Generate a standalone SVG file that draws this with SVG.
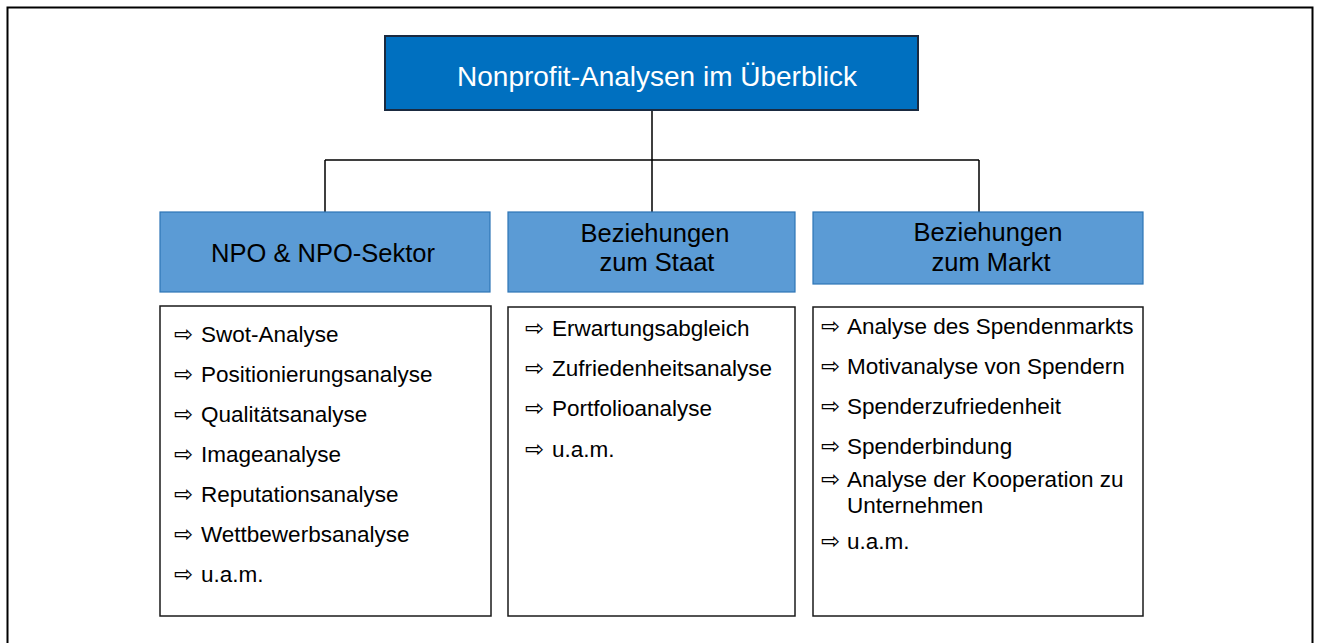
<svg xmlns="http://www.w3.org/2000/svg" width="1317" height="643" viewBox="0 0 1317 643">
<style>
text{font-family:"Liberation Sans",Arial,sans-serif;fill:#000}
.title{font-size:28px;fill:#fff}
.head{font-size:25.5px}
.item{font-size:22.5px}
.arr{font-family:"DejaVu Sans",sans-serif;font-size:23px}
.blue{fill:#5B9BD5;stroke:#2E75B6;stroke-width:1.2}
.list{fill:#fff;stroke:#1a1a1a;stroke-width:1.5}
.conn{stroke:#000;stroke-width:1.5;fill:none}
</style>
<rect x="7.5" y="7.5" width="1305" height="660" fill="none" stroke="#000" stroke-width="2"/>
<g id="connectors">
<path class="conn" d="M652 110V160M325 160H979M325 160V212M652 160V212M979 160V212"/>
</g>
<g id="title">
<rect x="385" y="36" width="533" height="74" fill="#0070C0" stroke="#1a2a40" stroke-width="2"/>
<text class="title" x="657" y="86" text-anchor="middle">Nonprofit-Analysen im Überblick</text>
</g>
<g id="head1">
<rect class="blue" x="160" y="212" width="330" height="80"/>
<text class="head" x="323" y="262" text-anchor="middle">NPO &amp; NPO-Sektor</text>
</g>
<g id="head2">
<rect class="blue" x="508" y="212" width="287" height="80"/>
<text class="head" x="655" y="242" text-anchor="middle">Beziehungen</text>
<text class="head" x="657" y="271" text-anchor="middle">zum Staat</text>
</g>
<g id="head3">
<rect class="blue" x="813" y="212" width="330" height="72"/>
<text class="head" x="988" y="241" text-anchor="middle">Beziehungen</text>
<text class="head" x="991" y="271" text-anchor="middle">zum Markt</text>
</g>
<g id="list1">
<rect class="list" x="160" y="306" width="331" height="310"/>
<text class="arr" x="174" y="342">⇨</text><text class="item" x="201" y="342">Swot-Analyse</text>
<text class="arr" x="174" y="382">⇨</text><text class="item" x="201" y="382">Positionierungsanalyse</text>
<text class="arr" x="174" y="422">⇨</text><text class="item" x="201" y="422">Qualitätsanalyse</text>
<text class="arr" x="174" y="462">⇨</text><text class="item" x="201" y="462">Imageanalyse</text>
<text class="arr" x="174" y="502">⇨</text><text class="item" x="201" y="502">Reputationsanalyse</text>
<text class="arr" x="174" y="542">⇨</text><text class="item" x="201" y="542">Wettbewerbsanalyse</text>
<text class="arr" x="174" y="582">⇨</text><text class="item" x="201" y="582">u.a.m.</text>
</g>
<g id="list2">
<rect class="list" x="508" y="307" width="287" height="309"/>
<text class="arr" x="525" y="336">⇨</text><text class="item" x="552" y="336">Erwartungsabgleich</text>
<text class="arr" x="525" y="376">⇨</text><text class="item" x="552" y="376">Zufriedenheitsanalyse</text>
<text class="arr" x="525" y="416">⇨</text><text class="item" x="552" y="416">Portfolioanalyse</text>
<text class="arr" x="525" y="457">⇨</text><text class="item" x="552" y="457">u.a.m.</text>
</g>
<g id="list3">
<rect class="list" x="813" y="307" width="330" height="309"/>
<text class="arr" x="821" y="334">⇨</text><text class="item" x="847" y="334">Analyse des Spendenmarkts</text>
<text class="arr" x="821" y="374">⇨</text><text class="item" x="847" y="374">Motivanalyse von Spendern</text>
<text class="arr" x="821" y="414">⇨</text><text class="item" x="847" y="414">Spenderzufriedenheit</text>
<text class="arr" x="821" y="454">⇨</text><text class="item" x="847" y="454">Spenderbindung</text>
<text class="arr" x="821" y="487">⇨</text><text class="item" x="847" y="487">Analyse der Kooperation zu</text>
<text class="item" x="847" y="513">Unternehmen</text>
<text class="arr" x="821" y="549">⇨</text><text class="item" x="847" y="549">u.a.m.</text>
</g>
</svg>
